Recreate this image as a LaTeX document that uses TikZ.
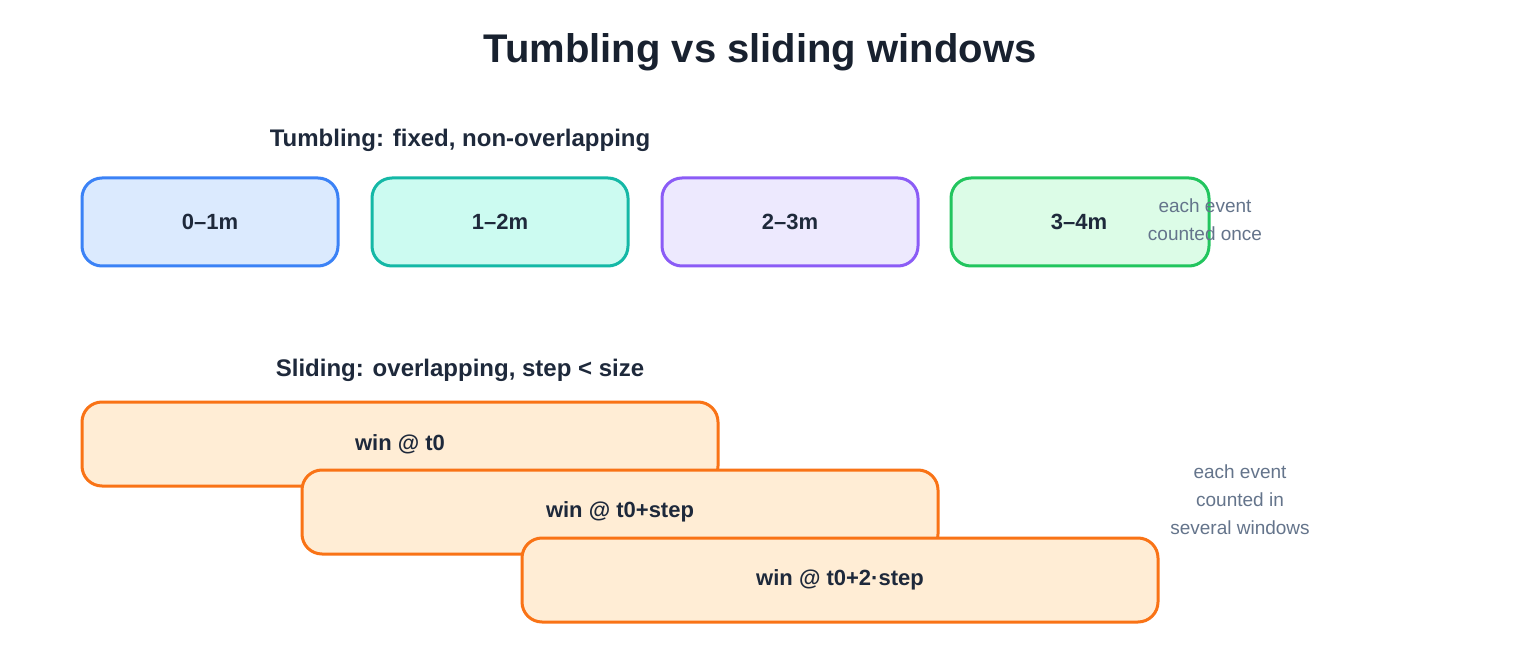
\documentclass[tikz,border=0pt]{standalone}
\usepackage{fontspec}
\setmainfont{Liberation Sans}
\definecolor{ink}{HTML}{1E293B}
\definecolor{note}{HTML}{64748B}
\definecolor{bB}{HTML}{3B82F6}\definecolor{fB}{HTML}{DBEAFE}
\definecolor{bT}{HTML}{14B8A6}\definecolor{fT}{HTML}{CCFBF1}
\definecolor{bP}{HTML}{8B5CF6}\definecolor{fP}{HTML}{EDE9FE}
\definecolor{bG}{HTML}{22C55E}\definecolor{fG}{HTML}{DCFCE7}
\definecolor{bO}{HTML}{F97316}\definecolor{fO}{HTML}{FFEDD5}
\begin{document}
\begin{tikzpicture}[x=1pt,y=-1pt,
  win/.style={draw, line width=3pt, rounded corners=20pt},
  lab/.style={font=\fontsize{22}{26}\selectfont\bfseries, text=ink},
  nt/.style={font=\fontsize{19}{28}\selectfont, text=note, align=center}]
\useasboundingbox[fill=white] (0,0) rectangle (1520,660);
\node[font=\fontsize{40}{48}\selectfont\bfseries, text=ink!80!black] (title) at (760,52) {Tumbling vs sliding windows};
\node[font=\fontsize{24}{28}\selectfont\bfseries, text=ink] (st) at (460,140) {Tumbling: fixed, non-overlapping};
\node[font=\fontsize{24}{28}\selectfont\bfseries, text=ink] (ss) at (460,370) {Sliding: overlapping, step < size};
\draw[win, draw=bB, fill=fB] (82,178) rectangle (338,266);
\node[lab] (t1) at (210,222) {0–1m};
\draw[win, draw=bT, fill=fT] (372,178) rectangle (628,266);
\node[lab] (t2) at (500,222) {1–2m};
\draw[win, draw=bP, fill=fP] (662,178) rectangle (918,266);
\node[lab] (t3) at (790,222) {2–3m};
\draw[win, draw=bG, fill=fG] (951,178) rectangle (1209,266);
\node[lab] (t4) at (1079,222) {3–4m};
\node[nt] (n1) at (1205,220) {each event\\counted once};
\draw[win, draw=bO, fill=fO] (82,402) rectangle (718,486);
\node[lab] (s1) at (400,444) {win @ t0};
\draw[win, draw=bO, fill=fO] (302,470) rectangle (938,554);
\node[lab] (s2) at (620,512) {win @ t0+step};
\draw[win, draw=bO, fill=fO] (522,538) rectangle (1158,622);
\node[lab] (s3) at (840,580) {win @ t0+2·step};
\node[nt] (n2) at (1240,500) {each event\\counted in\\several windows};
\end{tikzpicture}
\end{document}
